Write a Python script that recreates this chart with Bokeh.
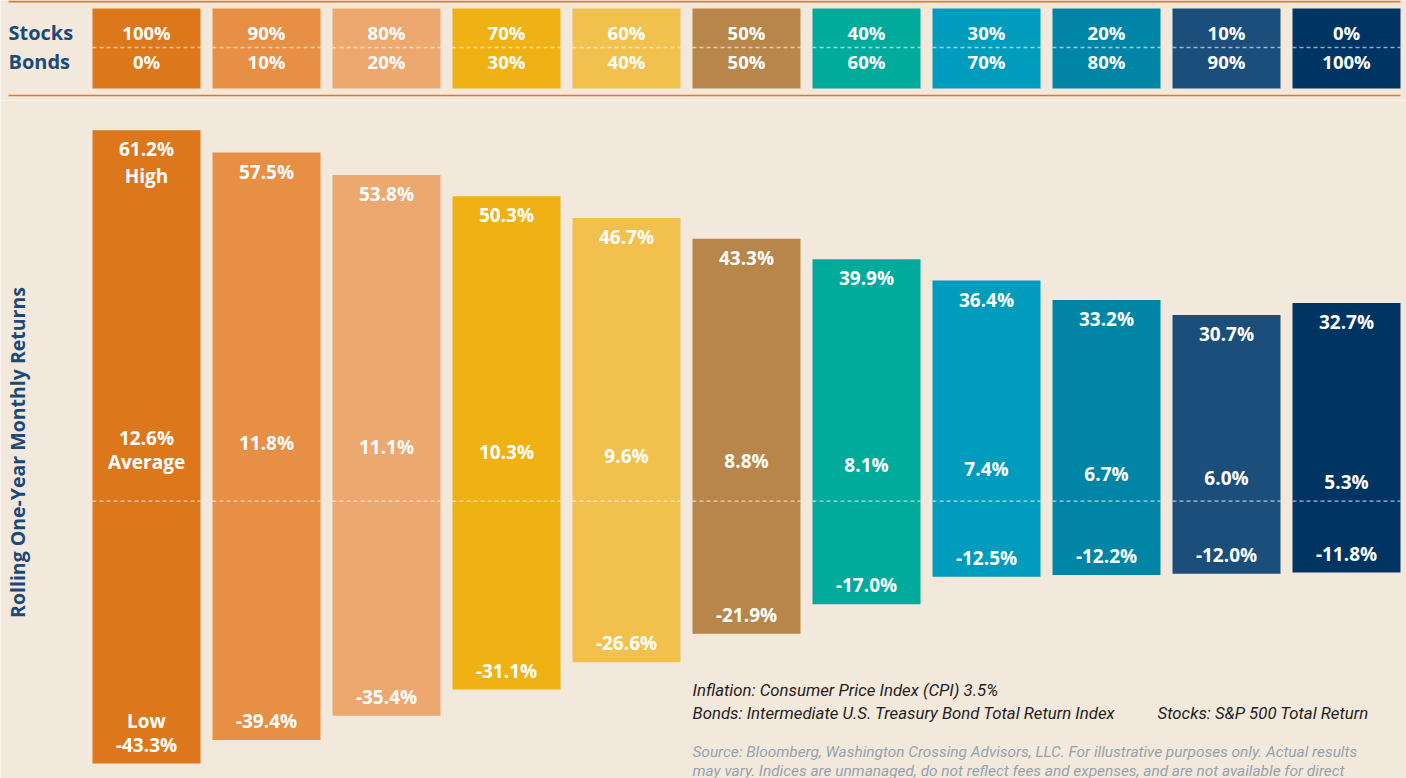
import math
from bokeh.plotting import figure
from bokeh.models import Range1d, Label, ColumnDataSource
from bokeh.layouts import column
from bokeh.core.properties import value
from bokeh.embed import file_html
from bokeh.resources import INLINE

# ---------------- data ----------------
stocks = [100, 90, 80, 70, 60, 50, 40, 30, 20, 10, 0]
bonds = [0, 10, 20, 30, 40, 50, 60, 70, 80, 90, 100]
highs = [61.2, 57.5, 53.8, 50.3, 46.7, 43.3, 39.9, 36.4, 33.2, 30.7, 32.7]
averages = [12.6, 11.8, 11.1, 10.3, 9.6, 8.8, 8.1, 7.4, 6.7, 6.0, 5.3]
lows = [-43.3, -39.4, -35.4, -31.1, -26.6, -21.9, -17.0, -12.5, -12.2, -12.0, -11.8]
colors = ["#dd771c", "#e68f45", "#eca86f", "#efb113", "#f2c14d", "#b8864a",
          "#00ab9c", "#009cbd", "#0085a7", "#1b4e7b", "#003462"]
row_names = ["Stocks", "Bonds"]

BG = "#f3e8dc"
NAVY = "#1b4a78"
RULE = "#e07b24"
FONT = value("Open Sans")

idx = list(range(len(stocks)))
X_RANGE = (-146 / 120, 1260 / 120)
RULE_X = (-1.15, 10.45)


def style(fig):
    fig.background_fill_color = BG
    fig.border_fill_color = BG
    fig.outline_line_color = None
    fig.axis.visible = False
    fig.grid.visible = False


# ---------------- header ----------------
hdr = figure(width=1406, height=100, output_backend="svg", toolbar_location=None,
             x_range=Range1d(*X_RANGE), y_range=Range1d(-1.345, 2.103), min_border=0)
style(hdr)

row_y = {"Stocks": 1, "Bonds": 0}
hsrc = ColumnDataSource(dict(
    x=idx, color=colors,
    s=[f"{v}%" for v in stocks], b=[f"{v}%" for v in bonds],
    ys=[row_y["Stocks"]] * len(idx), yb=[row_y["Bonds"]] * len(idx),
    x0=[i - 0.45 for i in idx], x1=[i + 0.45 for i in idx],
))
hdr.vbar(x="x", width=0.9, top=1.83, bottom=-0.93, fill_color="color", line_color=None, source=hsrc)
hdr.segment(x0="x0", x1="x1", y0=0.483, y1=0.483, line_color="white", line_alpha=0.6,
            line_width=1.5, line_dash="4 3", source=hsrc)
hdr.text(x="x", y="ys", text="s", text_color="white", text_font=FONT, text_font_style="bold",
         text_font_size="18.5px", text_align="center", text_baseline="middle", source=hsrc)
hdr.text(x="x", y="yb", text="b", text_color="white", text_font=FONT, text_font_style="bold",
         text_font_size="18.5px", text_align="center", text_baseline="middle", source=hsrc)
hdr.text(x=[RULE_X[0]] * 2, y=[row_y[r] for r in row_names], text=row_names, text_color=NAVY,
         text_font=FONT, text_font_style="bold", text_font_size="20px",
         text_align="left", text_baseline="middle")
hdr.segment(x0=[RULE_X[0]], x1=[RULE_X[1]], y0=[2.07], y1=[2.07], line_color=RULE, line_width=2)
hdr.segment(x0=[RULE_X[0]], x1=[RULE_X[1]], y0=[-1.173], y1=[-1.173], line_color=RULE, line_width=1.5)

# ---------------- main ----------------
p = figure(width=1406, height=678, output_backend="svg", toolbar_location=None,
           x_range=Range1d(*X_RANGE), y_range=Range1d(-45.77, 66.1), min_border=0)
style(p)

src = ColumnDataSource(dict(
    x=idx, high=highs, avg=averages, low=lows, color=colors,
    ht=[f"{v:.1f}%" for v in highs], at=[f"{v:.1f}%" for v in averages],
    lt=[f"{v:.1f}%" for v in lows],
    x0=[i - 0.45 for i in idx], x1=[i + 0.45 for i in idx],
))
p.vbar(x="x", width=0.9, top="high", bottom="low", fill_color="color", line_color=None, source=src)
p.segment(x0="x0", x1="x1", y0=0, y1=0, line_color="white", line_alpha=0.85,
          line_width=1, line_dash="4 3", source=src)

lab = dict(text_color="white", text_font=FONT, text_font_style="bold", text_font_size="19px",
           text_align="center")
p.text(x="x", y="high", text="ht", text_baseline="top", y_offset=6, source=src, **lab)
p.text(x="x", y="avg", text="at", text_baseline="middle", y_offset=13, source=src, **lab)
p.text(x="x", y="low", text="lt", text_baseline="bottom", y_offset=-6, source=src, **lab)
# words on the first bar
p.text(x=[0], y=[highs[0]], text=["High"], text_baseline="top", y_offset=33, **lab)
p.text(x=[0], y=[averages[0]], text=["Average"], text_baseline="middle", y_offset=37, **lab)
p.text(x=[0], y=[lows[0]], text=["Low"], text_baseline="bottom", y_offset=-30, **lab)

p.add_layout(Label(x=17, y=326, x_units="screen", y_units="screen", angle=math.pi / 2,
                   text="Rolling One-Year Monthly Returns", text_color=NAVY,
                   text_font="Open Sans", text_font_style="bold", text_font_size="19.5px",
                   text_align="center", text_baseline="middle"))

NOTE_FONT = "Roboto"
notes = [
    (692, 89, "Inflation: Consumer Price Index (CPI) 3.5%", "#231f20", "16.8px"),
    (692, 66, "Bonds: Intermediate U.S. Treasury Bond Total Return Index", "#231f20", "16.8px"),
    (1157, 66, "Stocks: S&P 500 Total Return", "#231f20", "16.8px"),
    (692, 27, "Source: Bloomberg, Washington Crossing Advisors, LLC. For illustrative purposes only. Actual results", "#93a3ad", "15.4px"),
    (692, 8, "may vary. Indices are unmanaged, do not reflect fees and expenses, and are not available for direct", "#93a3ad", "15.4px"),
]
for nx, ny, t, c, fs in notes:
    p.add_layout(Label(x=nx, y=ny, x_units="screen", y_units="screen", text=t, text_color=c,
                       text_font=NOTE_FONT, text_font_style="italic", text_font_size=fs,
                       text_align="left", text_baseline="middle"))

layout = column(hdr, p, spacing=0)
open("out.html", "w").write(file_html(layout, INLINE))
